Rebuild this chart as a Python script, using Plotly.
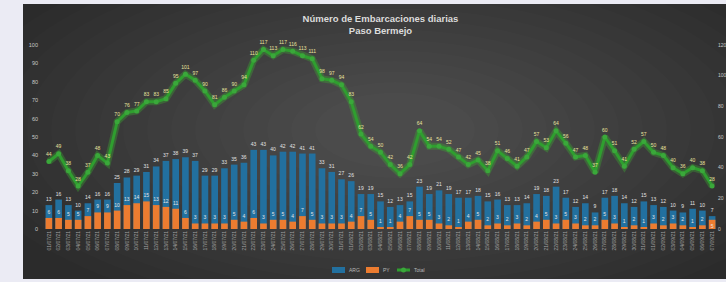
import plotly.graph_objects as go

# ---------------- data ----------------
fechas = [
    "01/07/21", "02/07/21", "03/07/21", "04/07/21", "05/07/21", "06/07/21", "07/07/21", "08/07/21",
    "09/07/21", "10/07/21", "11/07/21", "12/07/21", "13/07/21", "14/07/21", "15/07/21", "16/07/21",
    "17/07/21", "18/07/21", "19/07/21", "20/07/21", "21/07/21", "22/07/21", "23/07/21", "24/07/21",
    "25/07/21", "26/07/21", "27/07/21", "28/07/21", "29/07/21", "30/07/21", "31/07/21", "01/08/21",
    "02/08/21", "03/08/21", "04/08/21", "05/08/21", "06/08/21", "07/08/21", "08/08/21", "09/08/21",
    "10/08/21", "11/08/21", "12/08/21", "13/08/21", "14/08/21", "15/08/21", "16/08/21", "17/08/21",
    "18/08/21", "19/08/21", "20/08/21", "21/08/21", "22/08/21", "23/08/21", "24/08/21", "25/08/21",
    "26/08/21", "27/08/21", "28/08/21", "29/08/21", "30/08/21", "31/08/21", "01/09/21", "02/09/21",
    "03/09/21", "04/09/21", "05/09/21", "06/09/21", "07/09/21",
]

serie_azul = [13, 16, 13, 10, 14, 16, 16, 25, 28, 29, 31, 34, 37, 38, 39, 37,
              29, 29, 33, 35, 36, 43, 43, 40, 42, 42, 41, 41, 33, 31, 27, 26,
              19, 19, 15, 12, 13, 15, 23, 19, 21, 19, 17, 17, 18, 15, 16, 13,
              13, 14, 19, 18, 23, 17, 12, 14, 9, 17, 18, 14, 12, 15, 13, 12,
              10, 9, 11, 10, 7]

serie_naranja = [6, 6, 5, 5, 7, 9, 9, 10, 13, 14, 15, 13, 12, 11, 6, 3,
                 3, 3, 3, 5, 4, 6, 3, 5, 5, 4, 7, 5, 3, 3, 3, 4,
                 7, 5, 1, 1, 4, 7, 5, 5, 3, 2, 1, 4, 5, 2, 3, 2,
                 3, 2, 4, 5, 3, 5, 3, 2, 2, 5, 3, 1, 2, 1, 3, 2,
                 3, 2, 1, 2, 5]

serie_total = [44, 49, 38, 28, 37, 48, 43, 70, 76, 77, 83, 83, 85, 95, 101, 97,
               90, 81, 86, 90, 94, 110, 117, 113, 117, 116, 113, 111, 98, 97, 94, 83,
               62, 54, 50, 42, 36, 42, 64, 54, 54, 52, 47, 42, 45, 38, 51, 46,
               41, 47, 57, 53, 64, 56, 47, 48, 37, 60, 51, 41, 52, 57, 50, 48,
               40, 36, 40, 38, 28]

nombres = ["ARG", "PY", "Total"]
ticks_izq = [0, 10, 20, 30, 40, 50, 60, 70, 80, 90, 100]
ticks_der = [0, 20, 40, 60, 80, 100, 120]

COL_AZUL = "#22709f"
COL_NARANJA = "#ec7c30"
COL_VERDE = "#2f9e2f"

# ---------------- layout geometry ----------------
W, H = 726, 282
L, R, T, B = 44, 9, 45, 53
PW, PH = W - L - R, H - T - B


def pxx(x):
    return (x - L) / PW


def pxy(y):
    return (H - B - y) / PH


# orange labels go inside their bar when the blue label would collide
pos_naranja = ["inside" if a - n < 3 else "outside"
               for a, n in zip(serie_azul, serie_naranja)]

fig = go.Figure()

fig.add_bar(
    x=fechas, y=serie_azul, name=nombres[0],
    marker=dict(color=COL_AZUL, line=dict(width=0)),
    text=serie_azul, textposition="outside", constraintext="none",
    textfont=dict(size=5, color="#e4e4e4", family="Liberation Sans"),
    cliponaxis=False, showlegend=False,
)
fig.add_bar(
    x=fechas, y=serie_naranja, name=nombres[1],
    marker=dict(color=COL_NARANJA, line=dict(width=0)),
    text=serie_naranja, textposition=pos_naranja, constraintext="none",
    textfont=dict(size=5, color="#e4e4e4", family="Liberation Sans"),
    insidetextanchor="end",
    cliponaxis=False, showlegend=False,
)
# soft glow under the green line
fig.add_scatter(
    x=fechas, y=serie_total, yaxis="y2", mode="lines",
    line=dict(color="rgba(60,175,50,0.35)", width=7),
    showlegend=False, hoverinfo="skip",
)
fig.add_scatter(
    x=fechas, y=serie_total, yaxis="y2", name=nombres[2],
    mode="lines+markers+text",
    line=dict(color=COL_VERDE, width=3),
    marker=dict(size=5, color="#3aa83a", line=dict(width=0)),
    text=serie_total, textposition="top center",
    textfont=dict(size=5, color="#e9e39e", family="Liberation Sans"),
    cliponaxis=False, showlegend=False,
)

# background panel with a radial-ish gradient
shapes = [dict(type="rect", xref="paper", yref="paper",
               x0=pxx(23), x1=pxx(727), y0=pxy(279), y1=pxy(4),
               fillcolor="#2b2b2b", line=dict(width=0), layer="below")]
cx, cy = 395, 130
for k in range(16):
    rx, ry = 440 - 24 * k, 195 - 10.5 * k
    shapes.append(dict(type="circle", xref="paper", yref="paper",
                       x0=pxx(cx - rx), x1=pxx(cx + rx),
                       y0=pxy(cy + ry), y1=pxy(cy - ry),
                       fillcolor="rgba(255,255,255,0.012)", line=dict(width=0),
                       layer="below"))

# compact legend drawn under the axis labels
ley_y = 270
ley_items = [(332, COL_AZUL, "bar", nombres[0]),
             (366, COL_NARANJA, "bar", nombres[1]),
             (397, COL_VERDE, "line", nombres[2])]
annotations = []
for x0, col, kind, name in ley_items:
    if kind == "bar":
        shapes.append(dict(type="rect", xref="paper", yref="paper",
                           x0=pxx(x0), x1=pxx(x0 + 13),
                           y0=pxy(ley_y + 3), y1=pxy(ley_y - 3),
                           fillcolor=col, line=dict(width=0)))
    else:
        shapes.append(dict(type="line", xref="paper", yref="paper",
                           x0=pxx(x0), x1=pxx(x0 + 13),
                           y0=pxy(ley_y), y1=pxy(ley_y),
                           line=dict(color=col, width=3)))
        shapes.append(dict(type="circle", xref="paper", yref="paper",
                           x0=pxx(x0 + 4), x1=pxx(x0 + 9),
                           y0=pxy(ley_y + 2.5), y1=pxy(ley_y - 2.5),
                           fillcolor="#3aa83a", line=dict(width=0)))
    annotations.append(dict(xref="paper", yref="paper", x=pxx(x0 + 15), y=pxy(ley_y),
                            xanchor="left", yanchor="middle", showarrow=False,
                            text=name, font=dict(size=5, color="#b8b8b8")))

fig.update_layout(
    width=W, height=H,
    margin=dict(l=L, r=R, t=T, b=B, autoexpand=False),
    paper_bgcolor="#ebebf4",
    plot_bgcolor="rgba(0,0,0,0)",
    barmode="overlay", bargap=0.32,
    shapes=shapes,
    annotations=annotations,
    font=dict(family="Liberation Sans", color="#c8c8c8"),
    title=dict(
        text="<b>Número de Embarcaciones diarias</b><br><b>Paso Bermejo</b>",
        x=0.5, xref="paper", xanchor="center",
        y=1 - 22 / H, yref="container", yanchor="middle",
        font=dict(size=9.5, color="#dcdcdc", family="Liberation Sans"),
    ),
    xaxis=dict(type="category", tickangle=-90, showgrid=False, zeroline=False,
               showline=False, ticks="", range=[-0.5, len(fechas) - 0.5],
               tickfont=dict(size=5, color="#a0a0a0")),
    yaxis=dict(range=[0, 100], tickvals=ticks_izq, showgrid=False, zeroline=False,
               showline=False, ticks="", ticklabelstandoff=5,
               tickfont=dict(size=5.5, color="#c8c8c8")),
    yaxis2=dict(range=[0, 120], tickvals=ticks_der, overlaying="y", side="right",
                showgrid=False, zeroline=False, showline=False, ticks="",
                ticklabelstandoff=0,
                tickfont=dict(size=5, color="#c8c8c8")),
    showlegend=False,
)

fig.write_html("out.html", config={"displayModeBar": False},
               post_script="document.body.style.margin='0px';")
